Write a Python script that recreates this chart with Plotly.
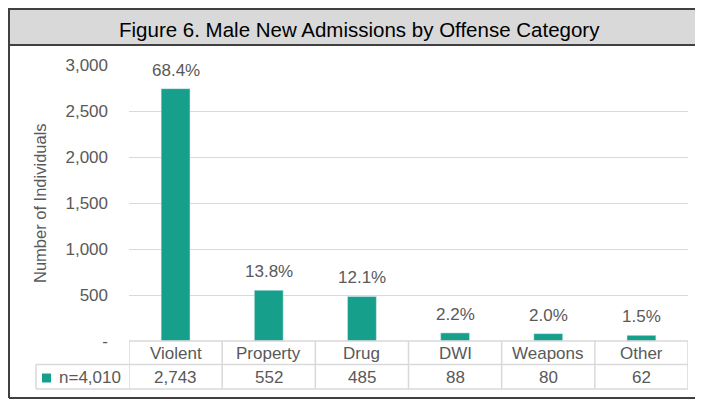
import plotly.graph_objects as go

categories = ["Violent", "Property", "Drug", "DWI", "Weapons", "Other"]
counts = [2743, 552, 485, 88, 80, 62]
count_labels = ["2,743", "552", "485", "88", "80", "62"]
pct_labels = ["68.4%", "13.8%", "12.1%", "2.2%", "2.0%", "1.5%"]
series_name = "n=4,010"
tick_vals = [0, 500, 1000, 1500, 2000, 2500, 3000]
tick_text = ["-", "500", "1,000", "1,500", "2,000", "2,500", "3,000"]
title_text = "Figure 6. Male New Admissions by Offense Category"
y_title = "Number of Individuals"

# page places the figure 8px in from the top-left (default body margin)
OFF = 8
W, H = 703 - OFF, 400 - OFF
BAR = "#16a08c"
TXT = "#595959"
GRID = "#d9d9d9"
FONT = "Liberation Sans, Arial, sans-serif"
FS = 17

def px(x):
    return (x - OFF) / W

def py(y):
    return (H - (y - OFF)) / H

fig = go.Figure()
fig.add_trace(go.Bar(x=categories, y=counts, marker_color=BAR, name=series_name,
                     showlegend=False, hoverinfo="skip"))

shapes = []
annotations = []

# title bar
shapes.append(dict(type="rect", xref="paper", yref="paper", x0=px(9), x1=px(712),
                   y0=py(9), y1=py(45), fillcolor="#d9d9d9",
                   line=dict(color="#404040", width=2), layer="below"))
# outer border left and bottom
shapes.append(dict(type="line", xref="paper", yref="paper", x0=px(9), x1=px(9),
                   y0=py(45), y1=py(398), line=dict(color="#404040", width=2)))
shapes.append(dict(type="line", xref="paper", yref="paper", x0=px(9), x1=px(712),
                   y0=py(398), y1=py(398), line=dict(color="#404040", width=2)))

annotations.append(dict(text=title_text, xref="paper", yref="paper", x=px(359), y=py(29),
                        xanchor="center", yanchor="middle", showarrow=False,
                        font=dict(size=20.5, color="#000000", family=FONT)))

annotations.append(dict(text=y_title, xref="paper", yref="paper", x=px(40), y=py(203),
                        xanchor="center", yanchor="middle", textangle=-90, showarrow=False,
                        font=dict(size=16.5, color=TXT, family=FONT)))

# table lines
n = len(categories)
row_top, row_mid, row_bot = 341, 364.5, 389
tl = dict(color=GRID, width=1.5)
shapes.append(dict(type="line", xref="x", yref="paper", x0=-0.5, x1=n - 0.5,
                   y0=py(row_top), y1=py(row_top), line=tl))
shapes.append(dict(type="line", xref="paper", yref="paper", x0=px(36), x1=px(688),
                   y0=py(row_mid), y1=py(row_mid), line=tl))
shapes.append(dict(type="line", xref="paper", yref="paper", x0=px(36), x1=px(688),
                   y0=py(row_bot), y1=py(row_bot), line=tl))
for i in range(n + 1):
    shapes.append(dict(type="line", xref="x", yref="paper", x0=i - 0.5, x1=i - 0.5,
                       y0=py(row_top), y1=py(row_bot), line=tl))
shapes.append(dict(type="line", xref="paper", yref="paper", x0=px(36), x1=px(36),
                   y0=py(row_mid), y1=py(row_bot), line=tl))

# legend key
shapes.append(dict(type="rect", xref="paper", yref="paper", x0=px(42), x1=px(51),
                   y0=py(373.5), y1=py(382.5), fillcolor=BAR, line=dict(width=0)))
annotations.append(dict(text=series_name, xref="paper", yref="paper", x=px(57), y=py(377),
                        xanchor="left", yanchor="middle", showarrow=False,
                        font=dict(size=FS, color=TXT, family=FONT)))

for c, lab, v, p in zip(categories, count_labels, counts, pct_labels):
    annotations.append(dict(text=c, xref="x", yref="paper", x=c, y=py(353),
                            xanchor="center", yanchor="middle", showarrow=False,
                            font=dict(size=FS, color=TXT, family=FONT)))
    annotations.append(dict(text=lab, xref="x", yref="paper", x=c, y=py(377),
                            xanchor="center", yanchor="middle", showarrow=False,
                            font=dict(size=FS, color=TXT, family=FONT)))
    annotations.append(dict(text=p, xref="x", yref="y", x=c, y=v,
                            xanchor="center", yanchor="bottom", yshift=7, showarrow=False,
                            font=dict(size=FS, color=TXT, family=FONT)))

fig.update_layout(
    width=W, height=H,
    margin=dict(l=0, r=0, t=0, b=0, pad=0),
    paper_bgcolor="white", plot_bgcolor="white",
    bargap=0.69,
    font=dict(family=FONT, size=FS, color=TXT),
    xaxis=dict(domain=[px(129), px(688)], showticklabels=False, showgrid=False,
               zeroline=False, showline=False, range=[-0.5, n - 0.5], fixedrange=True,
               automargin=False),
    yaxis=dict(domain=[py(341), py(65)], range=[0, 3000], tickvals=tick_vals,
               ticktext=tick_text, showgrid=True, gridcolor=GRID, gridwidth=1,
               zeroline=False, showline=False, ticklabelstandoff=20, automargin=False,
               tickfont=dict(size=FS, color=TXT, family=FONT)),
    shapes=shapes,
    annotations=annotations,
)

fig.write_html("out.html")
